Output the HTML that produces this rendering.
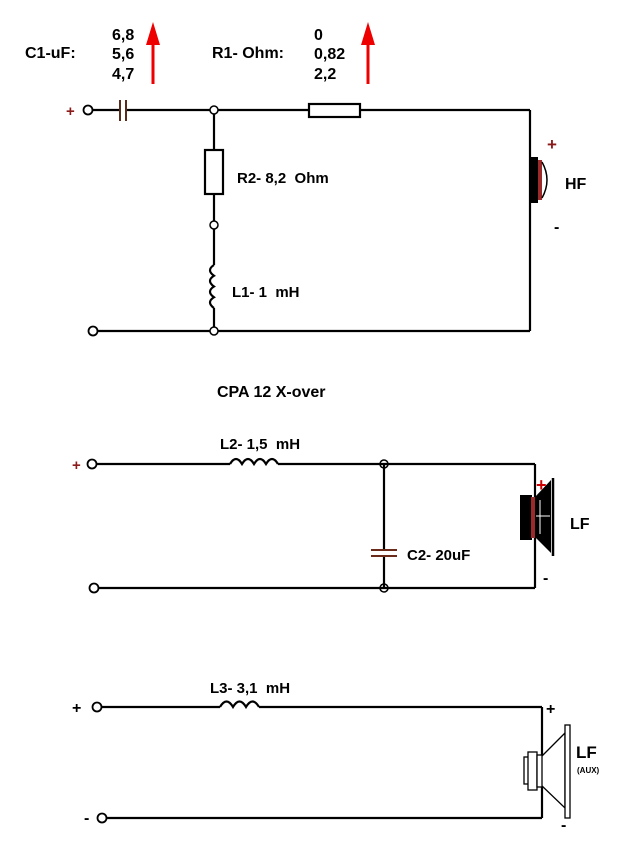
<!DOCTYPE html>
<html><head><meta charset="utf-8"><style>
html,body{margin:0;padding:0;background:#fff;}
svg text{font-family:"Liberation Sans",Arial,sans-serif;font-weight:bold;fill:#000;white-space:pre;}
</style></head><body>
<svg width="624" height="856" viewBox="0 0 624 856" xmlns="http://www.w3.org/2000/svg">
<g stroke="#000" stroke-width="2.2" fill="none">
<line x1="92" y1="110" x2="120" y2="110"/>
<line x1="126" y1="110" x2="309" y2="110"/>
<line x1="360" y1="110" x2="530" y2="110"/>
<line x1="530" y1="110" x2="530" y2="331"/>
<line x1="97" y1="331" x2="530" y2="331"/>
<line x1="214" y1="110" x2="214" y2="150"/>
<line x1="214" y1="194" x2="214" y2="265"/>
<line x1="214" y1="308" x2="214" y2="331"/>
<rect x="309" y="104" width="51" height="13" fill="#fff"/>
<rect x="205" y="150" width="18" height="44" fill="#fff"/>
<path d="M214,265 q-8,5 0,10.75 q-8,5 0,10.75 q-8,5 0,10.75 q-8,5 0,10.75"/>
</g>
<line x1="120" y1="100" x2="120" y2="121" stroke="#5a2a1a" stroke-width="2"/>
<line x1="126" y1="100" x2="126" y2="121" stroke="#5a2a1a" stroke-width="2"/>
<circle cx="88" cy="110" r="4.5" fill="#fff" stroke="#000" stroke-width="1.8"/>
<circle cx="93" cy="331" r="4.5" fill="#fff" stroke="#000" stroke-width="1.8"/>
<g fill="#fff" stroke="#000" stroke-width="1.5">
<circle cx="214" cy="110" r="4"/><circle cx="214" cy="225" r="4"/><circle cx="214" cy="331" r="4"/>
<circle cx="384" cy="464" r="4"/><circle cx="384" cy="588" r="4"/>
</g>
<text x="66" y="116" font-size="15" style="fill:#8b1a1a">+</text>
<rect x="531" y="157" width="7" height="46" fill="#000"/>
<rect x="538" y="160" width="4" height="40" fill="#9b2a2a"/>
<path d="M542,162 q10,18 0,36" stroke="#000" stroke-width="1.5" fill="none"/>
<text x="547" y="150" font-size="17" style="fill:#8b1a1a">+</text>
<text x="565" y="189" font-size="16">HF</text>
<text x="554" y="232" font-size="16">-</text>
<text x="25" y="58" font-size="16">C1-uF:</text>
<text x="112" y="40" font-size="16">6,8</text>
<text x="112" y="59" font-size="16">5,6</text>
<text x="112" y="79" font-size="16">4,7</text>
<line x1="153" y1="84" x2="153" y2="40" stroke="#e00" stroke-width="3"/>
<polygon points="146,45 153,22 160,45" fill="#e00"/>
<text x="212" y="58" font-size="16">R1- Ohm:</text>
<text x="314" y="40" font-size="16">0</text>
<text x="314" y="59" font-size="16">0,82</text>
<text x="314" y="79" font-size="16">2,2</text>
<line x1="368" y1="84" x2="368" y2="40" stroke="#e00" stroke-width="3"/>
<polygon points="361,45 368,22 375,45" fill="#e00"/>
<text x="237" y="183" font-size="15">R2- 8,2  Ohm</text>
<text x="232" y="297" font-size="15">L1- 1  mH</text>
<text x="217" y="397" font-size="16">CPA 12 X-over</text>
<g stroke="#000" stroke-width="2.2" fill="none">
<line x1="96" y1="464" x2="230" y2="464"/>
<line x1="278" y1="464" x2="535" y2="464"/>
<line x1="535" y1="464" x2="535" y2="588"/>
<line x1="96" y1="588" x2="535" y2="588"/>
<line x1="384" y1="464" x2="384" y2="550"/>
<line x1="384" y1="557" x2="384" y2="588"/>
<path d="M230,464 q6,-10 12,0 q6,-10 12,0 q6,-10 12,0 q6,-10 12,0"/>
</g>
<line x1="371" y1="550" x2="397" y2="550" stroke="#6b2a1a" stroke-width="2"/>
<line x1="371" y1="556" x2="397" y2="556" stroke="#6b2a1a" stroke-width="2"/>
<circle cx="92" cy="464" r="4.5" fill="#fff" stroke="#000" stroke-width="1.8"/>
<circle cx="94" cy="588" r="4.5" fill="#fff" stroke="#000" stroke-width="1.8"/>
<text x="72" y="470" font-size="15" style="fill:#8b1a1a">+</text>
<text x="220" y="449" font-size="15">L2- 1,5  mH</text>
<text x="407" y="560" font-size="15">C2- 20uF</text>
<rect x="520" y="495" width="12" height="45" fill="#000"/>
<rect x="531" y="497" width="4" height="41" fill="#9b2a2a"/>
<polygon points="535,497 551,480 551,553 535,537" fill="#000"/>
<line x1="540" y1="500" x2="540" y2="534" stroke="#fff" stroke-width="1"/>
<line x1="536" y1="516" x2="550" y2="516" stroke="#fff" stroke-width="1"/>
<line x1="553" y1="478" x2="553" y2="556" stroke="#000" stroke-width="2.5"/>
<text x="536" y="491" font-size="18" style="fill:#c00">+</text>
<text x="570" y="529" font-size="16">LF</text>
<text x="543" y="583" font-size="16">-</text>
<g stroke="#000" stroke-width="2.2" fill="none">
<line x1="101" y1="707" x2="220" y2="707"/>
<line x1="259" y1="707" x2="542" y2="707"/>
<line x1="542" y1="707" x2="542" y2="818"/>
<line x1="106" y1="818" x2="542" y2="818"/>
<path d="M220,707 q6.5,-11 13,0 q6.5,-11 13,0 q6.5,-11 13,0"/>
</g>
<circle cx="97" cy="707" r="4.5" fill="#fff" stroke="#000" stroke-width="1.8"/>
<circle cx="102" cy="818" r="4.5" fill="#fff" stroke="#000" stroke-width="1.8"/>
<text x="72" y="713" font-size="16">+</text>
<text x="84" y="823" font-size="16">-</text>
<text x="210" y="693" font-size="15">L3- 3,1  mH</text>
<g stroke="#000" stroke-width="1.3" fill="#fff">
<polygon points="541,757 565,733 565,808 541,785"/>
<rect x="524" y="757" width="6" height="27"/>
<rect x="528" y="752" width="9" height="38"/>
<rect x="537" y="755" width="5" height="32"/>
<rect x="565" y="725" width="5" height="93"/>
</g>
<text x="546" y="714" font-size="16">+</text>
<text x="561" y="830" font-size="16">-</text>
<text x="576" y="758" font-size="17">LF</text>
<text x="577" y="773" font-size="8">(AUX)</text>
</svg>
</body></html>
